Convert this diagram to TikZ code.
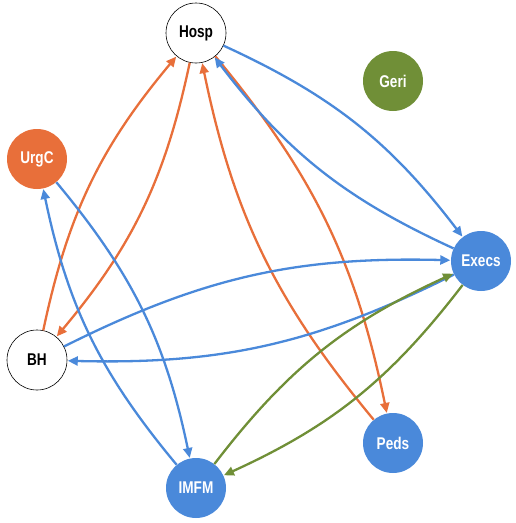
\documentclass[tikz,border=0pt]{standalone}
\usepackage{fontspec}
\setmainfont[FakeStretch=0.8]{Liberation Sans}
\usetikzlibrary{arrows.meta}
\definecolor{cblue}{RGB}{74,137,218}
\definecolor{corange}{RGB}{232,111,58}
\definecolor{cgreen}{RGB}{112,143,55}
\tikzset{
  nd/.style={circle, minimum size=60pt, inner sep=0pt, font=\fontsize{17}{17}\selectfont\bfseries},
  wnd/.style={nd, draw=black, line width=0.6pt, fill=white, text=black},
  fnd/.style={nd, fill=#1, text=white},
  ed/.style={draw=#1, line width=2.3pt, -{Triangle[length=10pt,width=9pt]}, bend left=14, shorten >=0.5pt},
}
\begin{document}
\begin{tikzpicture}[x=1pt,y=-1pt]
\useasboundingbox (0,0) rectangle (515,523);
\node[wnd] (hosp) at (196,33) {Hosp};
\node[fnd=cgreen] (geri) at (393,81) {Geri};
\node[fnd=corange] (urgc) at (37,159) {UrgC};
\node[fnd=cblue] (execs) at (481,261) {Execs};
\node[wnd] (bh) at (37,360) {BH};
\node[fnd=cblue] (peds) at (393,443) {Peds};
\node[fnd=cblue] (imfm) at (196,488) {IMFM};

\draw[ed=corange] (bh) to (hosp);
\draw[ed=corange] (hosp) to (bh);
\draw[ed=corange] (peds) to (hosp);
\draw[ed=corange] (hosp) to (peds);
\draw[ed=cblue] (hosp) to (execs);
\draw[ed=cblue] (execs) to (hosp);
\draw[ed=cblue] (bh) to (execs);
\draw[ed=cblue] (execs) to (bh);
\draw[ed=cblue] (urgc) to (imfm);
\draw[ed=cblue] (imfm) to (urgc);
\draw[ed=cgreen] (imfm) to (execs);
\draw[ed=cgreen] (execs) to (imfm);
\end{tikzpicture}
\end{document}
